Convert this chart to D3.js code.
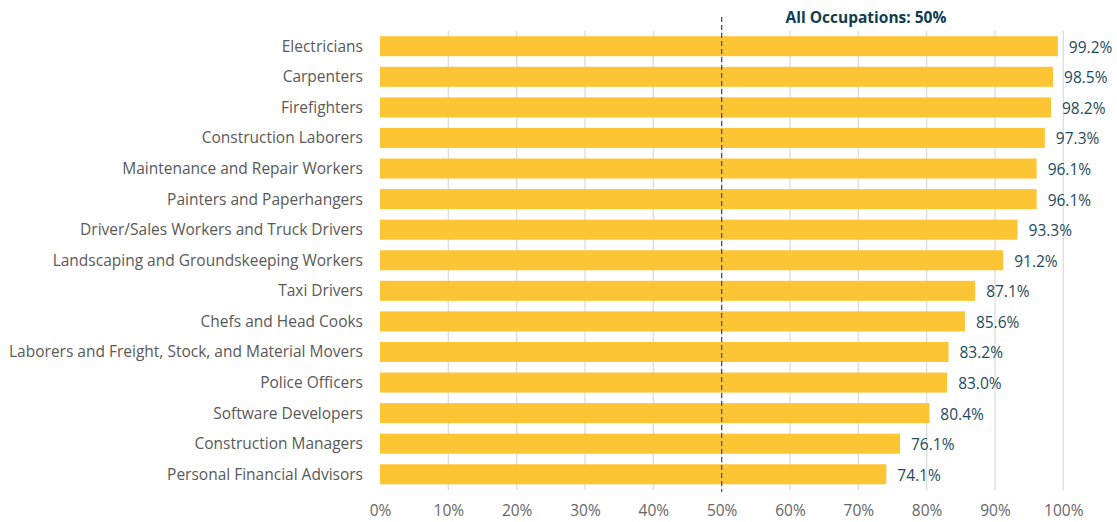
<!DOCTYPE html>
<html lang="en">
<head>
    <meta charset="UTF-8">
    <title>Occupations</title>
    <script src="https://cdn.jsdelivr.net/npm/d3@7"></script>
    <style>
        body { margin: 0; background: #fff; }
        svg { font-family: "Open Sans", sans-serif; display: block; }
        .grid line { stroke: #dcdcdc; stroke-width: 1.3; }
        .cat { fill: #595959; font-size: 15.5px; }
        .val { fill: #1d4a5e; font-size: 15.5px; }
        .tick-lbl { fill: #666; font-size: 15.5px; }
    </style>
</head>
<body>
<svg id="svg" width="1117" height="522"></svg>
<script>
    var categories = [
        "Electricians", "Carpenters", "Firefighters", "Construction Laborers",
        "Maintenance and Repair Workers", "Painters and Paperhangers",
        "Driver/Sales Workers and Truck Drivers", "Landscaping and Groundskeeping Workers",
        "Taxi Drivers", "Chefs and Head Cooks", "Laborers and Freight, Stock, and Material Movers",
        "Police Officers", "Software Developers", "Construction Managers", "Personal Financial Advisors"
    ];
    var values = [99.2, 98.5, 98.2, 97.3, 96.1, 96.1, 93.3, 91.2, 87.1, 85.6, 83.2, 83.0, 80.4, 76.1, 74.1];
    var xTicks = [0, 10, 20, 30, 40, 50, 60, 70, 80, 90, 100];
    var allOccupations = 50;
    var refLabel = "All Occupations: 50%";

    var svg = d3.select("#svg");
    var x = d3.scaleLinear().domain([0, 100]).range([380, 1063.3]);
    var y = d3.scaleBand().domain(categories).range([31, 489.5]).paddingInner(0.345).paddingOuter(0.17);

    // gridlines
    svg.append("g").attr("class", "grid")
        .selectAll("line").data(xTicks.slice(1)).enter().append("line")
        .attr("x1", function (d) { return x(d); })
        .attr("x2", function (d) { return x(d); })
        .attr("y1", 31).attr("y2", 490);

    // axis at bottom (labels only)
    var axis = d3.axisBottom(x).tickValues(xTicks).tickSize(0).tickPadding(0)
        .tickFormat(function (d) { return d + "%"; });
    var gx = svg.append("g").attr("transform", "translate(0,500)").call(axis);
    gx.select(".domain").remove();
    gx.selectAll("text").attr("class", "tick-lbl").attr("fill", null)
        .attr("dy", "16px").style("font-family", "Open Sans").style("font-size", "15.5px");

    // bars
    svg.append("g").selectAll("rect").data(values).enter().append("rect")
        .attr("x", x(0))
        .attr("y", function (d, i) { return y(categories[i]); })
        .attr("width", function (d) { return x(d) - x(0); })
        .attr("height", y.bandwidth())
        .attr("fill", "#fdc433");

    // category labels
    svg.append("g").selectAll("text").data(categories).enter().append("text")
        .attr("class", "cat")
        .attr("x", x(0) - 17)
        .attr("y", function (d) { return y(d) + y.bandwidth() / 2; })
        .attr("dy", "0.35em")
        .attr("text-anchor", "end")
        .text(function (d) { return d; });

    // value labels
    svg.append("g").selectAll("text").data(values).enter().append("text")
        .attr("class", "val")
        .attr("x", function (d) { return x(d) + 11; })
        .attr("y", function (d, i) { return y(categories[i]) + y.bandwidth() / 2 + 1; })
        .attr("dy", "0.35em")
        .text(function (d) { return d.toFixed(1) + "%"; });

    // reference line
    svg.append("line")
        .attr("x1", x(allOccupations)).attr("x2", x(allOccupations))
        .attr("y1", 17).attr("y2", 492)
        .attr("stroke", "#2e5d75").attr("stroke-width", 1.3)
        .attr("stroke-dasharray", "5,3");

    svg.append("text")
        .attr("x", 866).attr("y", 23)
        .attr("text-anchor", "middle")
        .attr("fill", "#0f3d52")
        .style("font-size", "15.5px").style("font-weight", "bold")
        .text(refLabel);
</script>
</body>
</html>
